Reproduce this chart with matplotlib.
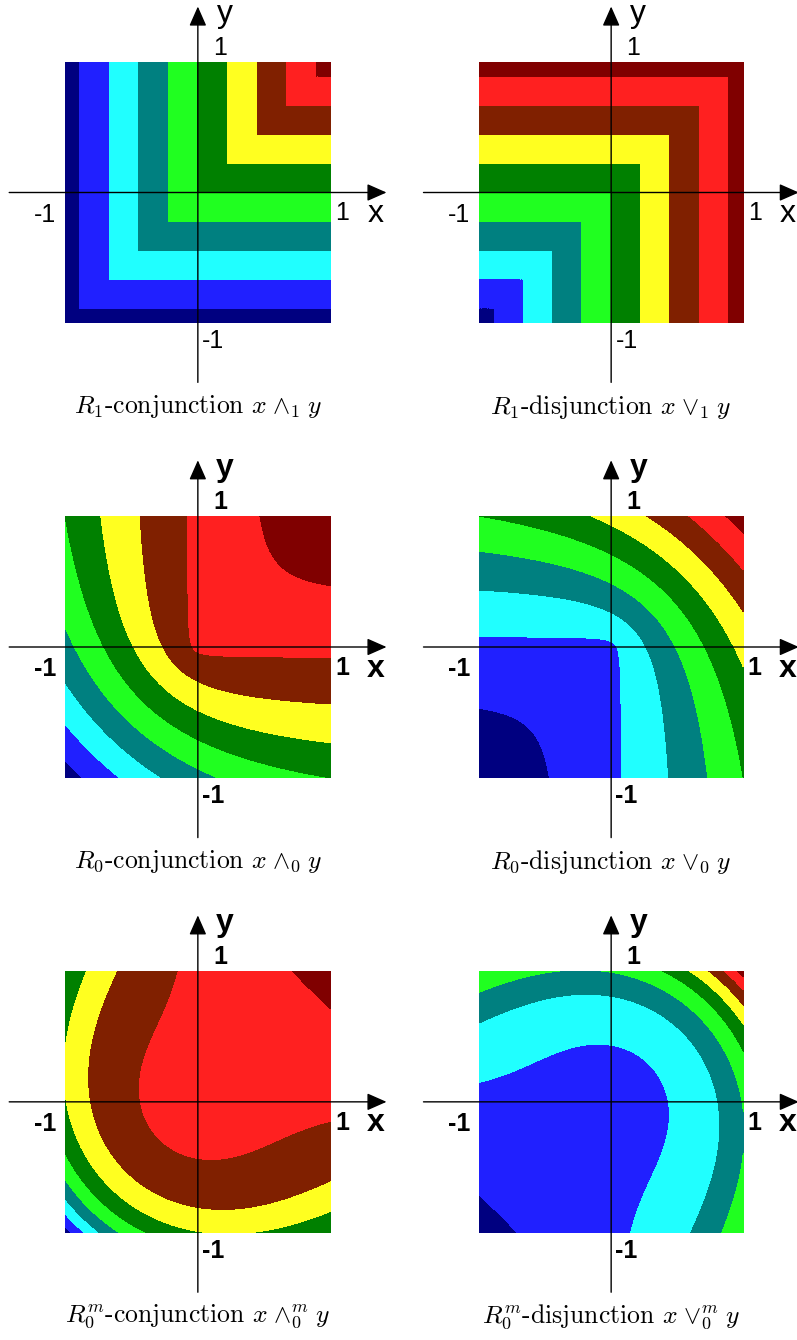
import numpy as np
import matplotlib
matplotlib.use("Agg")
import matplotlib.pyplot as plt
from matplotlib.patches import ArrowStyle

plt.rcParams["mathtext.fontset"] = "cm"

# ten colour bands, lowest value first
BAND_COLORS = ["#000080", "#2020ff", "#20ffff", "#008080", "#20ff20",
               "#008000", "#ffff20", "#802000", "#ff2020", "#800000"]
# nine contour levels as fractions of each function's range on the square
LEVEL_FRACTIONS = [1/18, 3/18, 5/18, 7/18, 9/18, 11/18, 13/18, 15/18, 17/18]

# R-function families shown on each row: alpha parameter and exponent m
ROW_KIND = ["R1", "R0", "R0m"]
ALPHA = {"R1": 1.0, "R0": 0.0, "R0m": 0.0}
M_EXP = {"R1": 0, "R0": 0, "R0m": 2}
CAPTIONS = [
    [r"$R_1$-conjunction $x\;{\wedge_1}\;y$", r"$R_1$-disjunction $x\;{\vee_1}\;y$"],
    [r"$R_0$-conjunction $x\;{\wedge_0}\;y$", r"$R_0$-disjunction $x\;{\vee_0}\;y$"],
    [r"$R_0^m$-conjunction $x\;{\wedge_0^m}\;y$", r"$R_0^m$-disjunction $x\;{\vee_0^m}\;y$"],
]
TICK_TEXT = ["-1", "1"]


def r_function(x, y, alpha, m, sign):
    """sign=-1: R-conjunction, sign=+1: R-disjunction."""
    root = np.sqrt(np.maximum(x * x + y * y - 2 * alpha * x * y, 0.0))
    val = (x + y + sign * root) / (1 + alpha)
    return val * (x * x + y * y) ** (m / 2)


W, H = 797, 1340
SQ_X = [(65, 330.7), (479, 743.3)]
SQ_Y = [(62, 323), (516, 778), (971, 1232.7)]
PAD = 1.7

fig = plt.figure(figsize=(W / 100, H / 100), dpi=100)
g = np.linspace(-1, 1, 901)
X, Y = np.meshgrid(g, g)

label_font = "Liberation Sans"

for r, kind in enumerate(ROW_KIND):
    for c in range(2):
        x0, x1 = SQ_X[c]
        y0, y1 = SQ_Y[r]
        sx, sy = (x1 - x0) / 2, (y1 - y0) / 2
        cx, cy = (x0 + x1) / 2, (y0 + y1) / 2
        ax = fig.add_axes([(cx - PAD * sx) / W, 1 - (cy + PAD * sy) / H,
                           2 * PAD * sx / W, 2 * PAD * sy / H])
        ax.set_xlim(-PAD, PAD)
        ax.set_ylim(-PAD, PAD)
        ax.axis("off")

        Z = r_function(X, Y, ALPHA[kind], M_EXP[kind], -1 if c == 0 else 1)
        fmin, fmax = Z.min(), Z.max()
        levels = [fmin - 1] + [fmin + (fmax - fmin) * f for f in LEVEL_FRACTIONS] + [fmax + 1]
        ax.contourf(X, Y, Z, levels=levels, colors=BAND_COLORS)

        style = ArrowStyle("-|>", head_length=12.0, head_width=5.3)
        arrow = dict(arrowstyle=style, lw=1.0, color="black",
                     shrinkA=0, shrinkB=0, mutation_scale=1)
        ax.annotate("", xy=(1.42, 0), xytext=(-1.42, 0), arrowprops=arrow,
                    annotation_clip=False)
        ax.annotate("", xy=(0, 1.425), xytext=(0, -1.455), arrowprops=arrow,
                    annotation_clip=False)

        weight = "normal" if r == 0 else "bold"
        tk = dict(fontsize=18, family=label_font, weight=weight,
                  ha="center", va="center")
        ax.text(-1.15, -0.17, TICK_TEXT[0], **tk)
        ax.text(1.086, -0.16, TICK_TEXT[1], **tk)
        ax.text(0.117, -1.14, TICK_TEXT[0], **tk)
        ax.text(0.167, 1.105, TICK_TEXT[1], **tk)
        lb = dict(fontsize=23, family=label_font, weight=weight,
                  ha="center", va="center")
        ax.text(1.335, -0.165, "x", **lb)
        ax.text(0.205, 1.37, "y", **lb)

        ax.text(0, -1.64, CAPTIONS[r][c], fontsize=18.5, family="cmr10",
                ha="center", va="center")

fig.savefig("out.png", dpi=100)
